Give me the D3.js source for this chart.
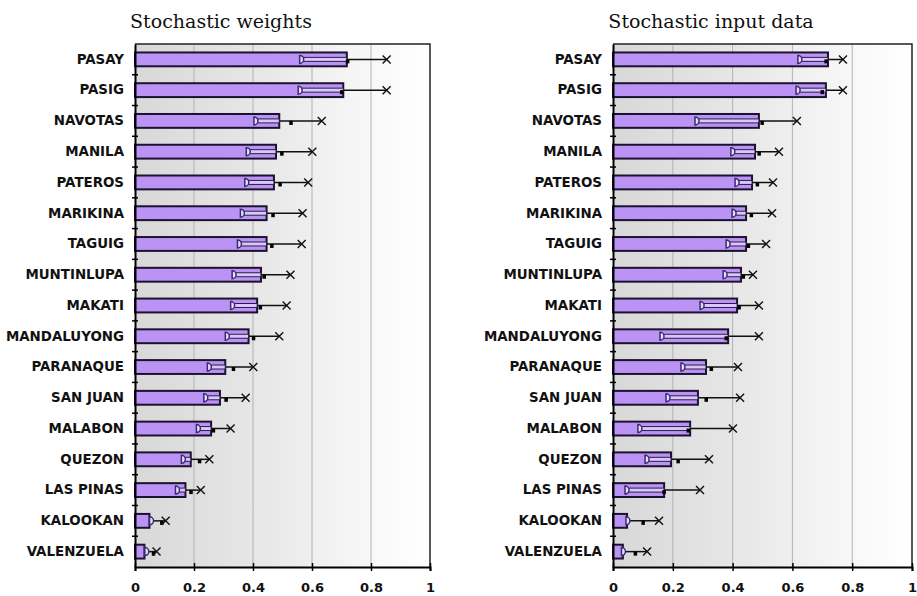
<!DOCTYPE html>
<html>
<head>
<meta charset="utf-8">
<script src="https://cdn.jsdelivr.net/npm/d3@7"></script>
<style>
  body { margin: 0; background: #fff; }
  svg { display: block; }
</style>
</head>
<body>
<div id="chart"></div>
<script>
// districts, top to bottom
const categories = ["PASAY", "PASIG", "NAVOTAS", "MANILA", "PATEROS", "MARIKINA", "TAGUIG",
    "MUNTINLUPA", "MAKATI", "MANDALUYONG", "PARANAQUE", "SAN JUAN", "MALABON", "QUEZON",
    "LAS PINAS", "KALOOKAN", "VALENZUELA"];

// stochastic weights: bar value, lower marker, middle marker, upper marker
const weightsMean = [0.718, 0.706, 0.489, 0.478, 0.471, 0.446, 0.446, 0.427, 0.414, 0.385, 0.306, 0.288, 0.258, 0.189, 0.171, 0.049, 0.032];
const weightsLow  = [0.565, 0.560, 0.410, 0.384, 0.379, 0.364, 0.354, 0.336, 0.331, 0.313, 0.252, 0.240, 0.215, 0.164, 0.144, 0.056, 0.040];
const weightsMid  = [0.720, 0.700, 0.528, 0.497, 0.491, 0.467, 0.463, 0.437, 0.424, 0.401, 0.333, 0.308, 0.265, 0.218, 0.189, 0.090, 0.062];
const weightsHigh = [0.853, 0.853, 0.633, 0.601, 0.587, 0.568, 0.565, 0.527, 0.514, 0.489, 0.401, 0.375, 0.324, 0.252, 0.223, 0.104, 0.073];

// stochastic input data
const inputMean = [0.719, 0.712, 0.488, 0.475, 0.465, 0.445, 0.445, 0.428, 0.415, 0.385, 0.311, 0.284, 0.258, 0.194, 0.171, 0.047, 0.033];
const inputLow  = [0.625, 0.619, 0.281, 0.401, 0.415, 0.405, 0.385, 0.375, 0.298, 0.164, 0.234, 0.184, 0.090, 0.114, 0.047, 0.050, 0.035];
const inputMid  = [0.712, 0.699, 0.498, 0.488, 0.482, 0.462, 0.452, 0.435, 0.421, 0.378, 0.328, 0.311, 0.251, 0.217, 0.170, 0.100, 0.074];
const inputHigh = [0.769, 0.769, 0.615, 0.555, 0.535, 0.532, 0.512, 0.468, 0.488, 0.488, 0.418, 0.425, 0.401, 0.321, 0.291, 0.154, 0.114];

const xTicks = [0, 0.2, 0.4, 0.6, 0.8, 1];
const gridTicks = [0.2, 0.4, 0.6, 0.8];

const W = 917, H = 596;
const plotTop = 44, plotBottom = 567;

const svg = d3.select("#chart").append("svg")
    .attr("width", W)
    .attr("height", H);

// background gradient used inside each plot
const grad = svg.append("defs").append("linearGradient")
    .attr("id", "bg")
    .attr("x1", "0%").attr("x2", "100%").attr("y1", "0%").attr("y2", "0%");
grad.append("stop").attr("offset", "0%").attr("stop-color", "#d8d8d8");
grad.append("stop").attr("offset", "45%").attr("stop-color", "#e8e8e8");
grad.append("stop").attr("offset", "80%").attr("stop-color", "#f8f8f8");
grad.append("stop").attr("offset", "100%").attr("stop-color", "#ffffff");

const panels = [
    { title: "Stochastic weights", titleX: 221, left: 135, right: 430,
      mean: weightsMean, low: weightsLow, mid: weightsMid, high: weightsHigh },
    { title: "Stochastic input data", titleX: 711, left: 613, right: 912,
      mean: inputMean, low: inputLow, mid: inputMid, high: inputHigh }
];

panels.forEach(drawPanel);

function drawPanel(p) {
    const x = d3.scaleLinear().domain([0, 1]).range([p.left, p.right]);
    const y = d3.scaleBand()
        .domain(categories)
        .range([plotTop, plotBottom])
        .paddingInner(0.55)
        .paddingOuter(0.275);
    const step = y.step();
    const bw = y.bandwidth();

    const rows = categories.map((c, i) => ({
        name: c, mean: p.mean[i], low: p.low[i], mid: p.mid[i], high: p.high[i]
    }));

    const g = svg.append("g");

    // title
    g.append("text")
        .attr("x", p.titleX)
        .attr("y", 28)
        .attr("text-anchor", "middle")
        .attr("font-family", "'DejaVu Serif', serif")
        .attr("font-size", "19px")
        .attr("fill", "#111")
        .text(p.title);

    // plot background
    g.append("rect")
        .attr("x", x(0)).attr("y", plotTop)
        .attr("width", x(1) - x(0)).attr("height", plotBottom - plotTop)
        .attr("fill", "url(#bg)");

    // vertical grid
    g.selectAll(".grid")
        .data(gridTicks)
        .join("line")
        .attr("x1", d => x(d)).attr("x2", d => x(d))
        .attr("y1", plotTop).attr("y2", plotBottom)
        .attr("stroke", "#b3b3b3")
        .attr("stroke-width", 1);

    // top + right frame
    g.append("path")
        .attr("d", `M${x(0)},${plotTop}H${x(1)}V${plotBottom}`)
        .attr("fill", "none")
        .attr("stroke", "#222")
        .attr("stroke-width", 1.5);

    // bars
    g.selectAll(".bar")
        .data(rows)
        .join("rect")
        .attr("x", x(0))
        .attr("y", d => y(d.name))
        .attr("width", d => x(d.mean) - x(0))
        .attr("height", bw)
        .attr("fill", "#bb93f4")
        .attr("stroke", "#1c1230")
        .attr("stroke-width", 2);

    // whisker line, low -> high
    g.selectAll(".whisker")
        .data(rows)
        .join("line")
        .attr("x1", d => x(d.low)).attr("x2", d => x(d.high))
        .attr("y1", d => y(d.name) + bw / 2).attr("y2", d => y(d.name) + bw / 2)
        .attr("stroke", "#111")
        .attr("stroke-width", 1.5);

    // part of whisker that sits inside the bar is drawn as a thin box
    g.selectAll(".inner")
        .data(rows.filter(d => d.low < d.mean))
        .join("rect")
        .attr("x", d => x(d.low))
        .attr("y", d => y(d.name) + bw / 2 - 2)
        .attr("width", d => x(d.mean) - x(d.low))
        .attr("height", 4)
        .attr("fill", "#d9c6fb")
        .attr("stroke", "#2a1d45")
        .attr("stroke-width", 1);

    // middle marker (small filled block)
    g.selectAll(".mid")
        .data(rows)
        .join("rect")
        .attr("x", d => x(d.mid) - 1.5)
        .attr("y", d => y(d.name) + bw / 2)
        .attr("width", 3.5)
        .attr("height", 4)
        .attr("fill", "#000");

    // lower marker, open "D"
    g.selectAll(".low")
        .data(rows)
        .join("path")
        .attr("d", d => {
            const cx = x(d.low), cy = y(d.name) + bw / 2;
            return `M${cx - 2},${cy - 4}V${cy + 4}A4,4 0 0 0 ${cx - 2},${cy - 4}Z`;
        })
        .attr("fill", "#e6dcff")
        .attr("stroke", "#3b2a70")
        .attr("stroke-width", 1.5);

    // upper marker, X
    g.selectAll(".high")
        .data(rows)
        .join("path")
        .attr("d", d => {
            const cx = x(d.high), cy = y(d.name) + bw / 2, r = 4;
            return `M${cx - r},${cy - r}L${cx + r},${cy + r}M${cx - r},${cy + r}L${cx + r},${cy - r}`;
        })
        .attr("stroke", "#111")
        .attr("stroke-width", 1.4);

    // y axis with labels
    const yAxis = g.append("g")
        .attr("transform", `translate(${x(0)},0)`)
        .call(d3.axisLeft(y).tickSize(0).tickPadding(11));
    yAxis.select(".domain")
        .attr("stroke", "#000")
        .attr("stroke-width", 2);
    yAxis.selectAll("text")
        .attr("font-family", "'DejaVu Sans', sans-serif")
        .attr("font-weight", "bold")
        .attr("font-size", "13.4px")
        .attr("fill", "#111");

    // small cross ticks between categories
    g.selectAll(".sep")
        .data(categories.slice(0, -1))
        .join("line")
        .attr("x1", x(0) - 3).attr("x2", x(0) + 3)
        .attr("y1", d => y(d) + bw + (step - bw) / 2)
        .attr("y2", d => y(d) + bw + (step - bw) / 2)
        .attr("stroke", "#000")
        .attr("stroke-width", 1.5);

    // x axis
    const xAxis = g.append("g")
        .attr("transform", `translate(0,${plotBottom})`)
        .call(d3.axisBottom(x).tickValues(xTicks).tickFormat(d3.format("~g")).tickSize(4).tickPadding(12));
    xAxis.select(".domain")
        .attr("stroke", "#000")
        .attr("stroke-width", 2);
    xAxis.selectAll(".tick line")
        .attr("y1", -4)
        .attr("stroke-width", 1.5);
    xAxis.selectAll("text")
        .attr("font-family", "'DejaVu Sans', sans-serif")
        .attr("font-weight", "bold")
        .attr("font-size", "13px")
        .attr("fill", "#111");
}
</script>
</body>
</html>
